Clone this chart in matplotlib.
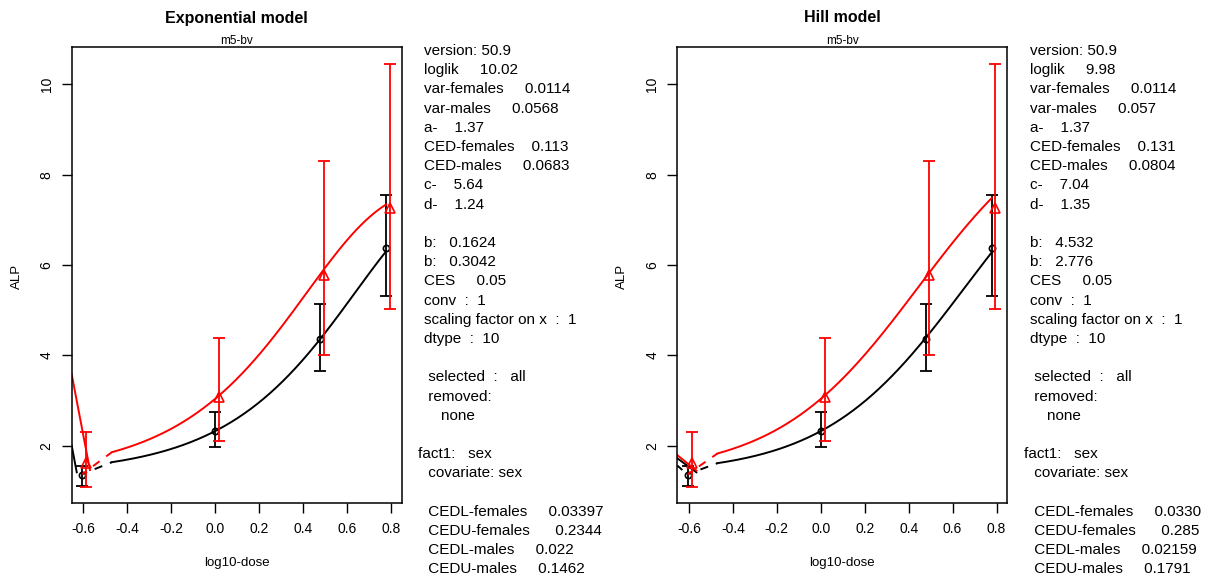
import numpy as np
import matplotlib
matplotlib.use("Agg")
import matplotlib.pyplot as plt

plt.rcParams['font.family'] = ['Liberation Sans', 'DejaVu Sans']

W, H = 1207, 577

# dose groups on log10 scale (control drawn at -0.6)
log_dose = [-0.605, 0.0, 0.477, 0.778]
male_shift = 0.017

fem_mean = [1.34, 2.33, 4.36, 6.37]
fem_low = [1.10, 1.96, 3.66, 5.32]
fem_high = [1.54, 2.75, 5.13, 7.55]

male_mean = [1.61, 3.07, 5.78, 7.27]
male_low = [1.09, 2.10, 4.00, 5.02]
male_high = [2.30, 4.38, 8.30, 10.45]

# fitted parameters, exponential model
exp_loglik = "10.02"
exp_var = ["0.0114", "0.0568"]
exp_a = "1.37"
exp_ced = ["0.113", "0.0683"]
exp_c = "5.64"
exp_d = "1.24"
exp_b = ["0.1624", "0.3042"]
exp_cedl = ["0.03397", "0.022"]
exp_cedu = ["0.2344", "0.1462"]

# fitted parameters, Hill model
hill_loglik = "9.98"
hill_var = ["0.0114", "0.057"]
hill_a = "1.37"
hill_ced = ["0.131", "0.0804"]
hill_c = "7.04"
hill_d = "1.35"
hill_b = ["4.532", "2.776"]
hill_cedl = ["0.0330", "0.02159"]
hill_cedu = ["0.285", "0.1791"]

# short pieces of curve left of the control group
exp_lead_fem = ([-0.653, -0.630], [2.00, 1.41])
exp_lead_male = ([-0.653, -0.570], [3.58, 1.46])
hill_lead_fem = ([-0.653, -0.566], [1.72, 1.41])
hill_lead_male = ([-0.653, -0.566], [1.79, 1.45])
hill_stub_fem = ([-0.653, -0.630], [1.56, 1.46])

curve_start = -0.47
curve_end = np.log10(6)


def expo(x, a, b, c, d):
    return a * (c - (c - 1) * np.exp(-b * x ** d))


def hill(x, a, b, c, d):
    return a * (1 + (c - 1) * x ** d / (b ** d + x ** d))


def info_lines(loglik, var, a, ced, c, d, b, cedl, cedu):
    return ["version: 50.9",
            "loglik     " + loglik,
            "var-females     " + var[0],
            "var-males     " + var[1],
            "a-    " + a,
            "CED-females    " + ced[0],
            "CED-males     " + ced[1],
            "c-    " + c,
            "d-    " + d,
            "",
            "b:   " + b[0],
            "b:   " + b[1],
            "CES     0.05",
            "conv  :  1",
            "scaling factor on x  :  1",
            "dtype  :  10",
            "",
            " selected  :   all",
            " removed:",
            "    none",
            "",
            "fact1:   sex",
            " covariate: sex",
            "",
            " CEDL-females     " + cedl[0],
            " CEDU-females      " + cedu[0],
            " CEDL-males     " + cedl[1],
            " CEDU-males     " + cedu[1]]


def panel(x0, title, model, a, b, c, d, leads, stubs, lines, tx):
    ax = fig.add_axes([x0 / W, 1 - 503 / H, 330 / W, 456 / H])
    a, c, d = float(a), float(c), float(d)
    xs = np.linspace(curve_start, curve_end, 300)
    male_x = [v + male_shift for v in log_dose]

    groups = [(log_dose, fem_mean, fem_low, fem_high, 'black', 'o', 4.5, float(b[0])),
              (male_x, male_mean, male_low, male_high, 'red', '^', 7.5, float(b[1]))]
    for (gx, m, lo, hi, col, mk, ms, bb), lead in zip(groups, leads):
        ys = model(10 ** xs, a, bb, c, d)
        ax.plot(xs, ys, color=col, lw=1.4)
        ax.plot([log_dose[0], curve_start], [a, ys[0]], color=col, lw=1.4,
                ls=(1.5, (4.2, 4.2)))
        ax.plot(lead[0], lead[1], color=col, lw=1.4)
        err = [np.array(m) - np.array(lo), np.array(hi) - np.array(m)]
        ax.errorbar(gx, m, yerr=err, fmt='none', ecolor=col, elinewidth=1.3,
                    capsize=4.3, capthick=1.3)
        ax.plot(gx, m, mk, mfc='none', mec=col, ms=ms, mew=1.2)
    for s in stubs:
        ax.plot(s[0], s[1], color='black', lw=1.4, ls=(0, (4.2, 4.2)))

    ax.set_xlim(-0.653, 0.849)
    ax.set_ylim(0.73, 10.83)
    ax.set_xticks([-0.6, -0.4, -0.2, 0.0, 0.2, 0.4, 0.6, 0.8])
    ax.set_xticklabels(['-0.6', '-0.4', '-0.2', '0.0', '0.2', '0.4', '0.6', '0.8'])
    ax.set_yticks([2, 4, 6, 8, 10])
    ax.tick_params(direction='out', length=7, width=1.0, labelsize=10, pad=7)
    ax.tick_params(axis='y', labelrotation=90, pad=6)
    for lab in ax.get_yticklabels():
        lab.set_va('center')
    for sp in ax.spines.values():
        sp.set_linewidth(1.1)

    cx = (x0 + 165) / W
    fig.text(cx, 1 - 18 / H, title, ha='center', va='center',
             fontsize=11.5, fontweight='bold')
    fig.text(cx, 1 - 41 / H, "m5-bv", ha='center', va='center', fontsize=8.5)
    fig.text(cx, 1 - 563 / H, "log10-dose", ha='center', va='center', fontsize=9.5)
    fig.text((x0 - 55) / W, 1 - 276 / H, "ALP", ha='center', va='center',
             rotation=90, fontsize=9.5)

    for i, s in enumerate(lines):
        if s == "":
            continue
        xx = tx - 6 if s.startswith("fact1") else tx
        fig.text(xx / W, 1 - (51 + 19.2 * i) / H, s, ha='left', va='center',
                 fontsize=11)
    return ax


fig = plt.figure(figsize=(W / 100, H / 100), dpi=100)

panel(71.7, "Exponential model", expo, exp_a, exp_b, exp_c, exp_d,
      [exp_lead_fem, exp_lead_male], [],
      info_lines(exp_loglik, exp_var, exp_a, exp_ced, exp_c, exp_d, exp_b,
                 exp_cedl, exp_cedu), 424)
panel(677.3, "Hill model", hill, hill_a, hill_b, hill_c, hill_d,
      [hill_lead_fem, hill_lead_male], [hill_stub_fem],
      info_lines(hill_loglik, hill_var, hill_a, hill_ced, hill_c, hill_d, hill_b,
                 hill_cedl, hill_cedu), 1030)

fig.savefig("out.png", dpi=100)
